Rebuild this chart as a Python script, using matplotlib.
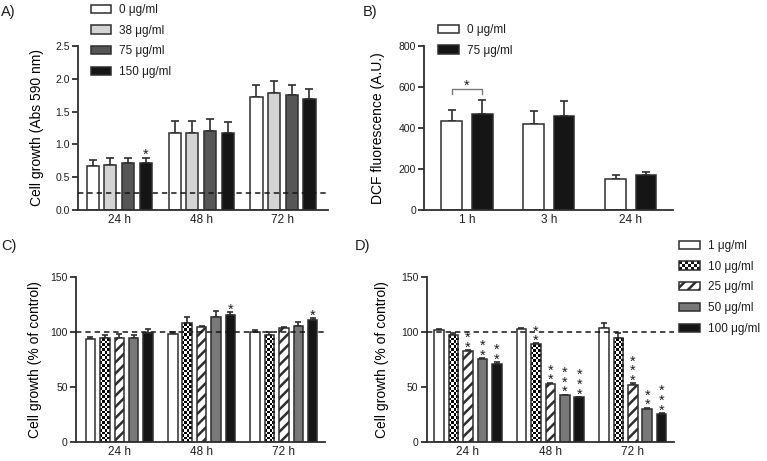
import matplotlib
matplotlib.use("Agg")
import matplotlib.pyplot as plt
import numpy as np
from matplotlib.patches import Patch, Rectangle
from matplotlib.legend_handler import HandlerBase

# ---- data -------------------------------------------------------------
time_a = ["24 h", "48 h", "72 h"]
conc_a = ["0 μg/ml", "38 μg/ml", "75 μg/ml", "150 μg/ml"]
growth_a = [[0.67, 1.17, 1.72],
            [0.69, 1.18, 1.78],
            [0.71, 1.20, 1.76],
            [0.71, 1.18, 1.69]]
err_a = [[0.09, 0.19, 0.19],
         [0.10, 0.17, 0.18],
         [0.09, 0.18, 0.15],
         [0.09, 0.16, 0.15]]
stars_a = [["", "", ""], ["", "", ""], ["", "", ""], ["*", "", ""]]
baseline_a = 0.26

time_b = ["1 h", "3 h", "24 h"]
conc_b = ["0 μg/ml", "75 μg/ml"]
dcf_b = [[432, 418, 150],
         [468, 459, 169]]
err_b = [[57, 67, 21],
         [67, 73, 18]]
bracket_b = 564  # height of the 1 h significance bracket

time_cd = ["24 h", "48 h", "72 h"]
conc_cd = ["1 μg/ml", "10 μg/ml", "25 μg/ml", "50 μg/ml", "100 μg/ml"]
growth_c = [[93.3, 98.5, 100.3],
            [94.5, 108.2, 97.0],
            [94.5, 104.3, 103.7],
            [94.8, 113.4, 105.8],
            [99.4, 115.5, 111.0]]
err_c = [[2.4, 1.5, 1.8],
         [2.7, 5.2, 2.7],
         [4.0, 1.0, 1.2],
         [3.0, 5.5, 3.0],
         [3.3, 2.5, 1.8]]
stars_c = [["", "", ""], ["", "", ""], ["", "", ""], ["", "", ""], ["", "*", "*"]]

growth_d = [[101.8, 103.0, 103.4],
            [97.3, 89.0, 94.5],
            [82.3, 53.0, 51.5],
            [75.6, 42.4, 30.2],
            [71.0, 40.5, 25.0]]
err_d = [[0.9, 0.4, 4.8],
         [2.0, 0.6, 4.9],
         [1.2, 1.0, 2.2],
         [0.9, 0.6, 0.9],
         [1.8, 0.5, 1.5]]
stars_d = [["", "", ""], ["", "**", ""], ["**", "**", "***"],
           ["**", "***", "**"], ["**", "***", "***"]]
control_cd = 100

# ---- style ------------------------------------------------------------
INK = "#1e1e1e"
EDGE = "#2e2e2e"
BLACK = "#151515"
W, H = 767, 461

plt.rcParams.update({
    "font.family": ["Liberation Sans", "DejaVu Sans"],
    "font.size": 8,
    "text.color": INK,
    "axes.edgecolor": EDGE,
    "axes.linewidth": 1.3,
    "xtick.color": INK,
    "ytick.color": EDGE,
    "ytick.labelcolor": INK,
    "hatch.linewidth": 1.8,
    "hatch.color": BLACK,
})

fig = plt.figure(figsize=(W / 100, H / 100), dpi=100)


def px_axes(left, top, right, bottom):
    return fig.add_axes([left / W, 1 - bottom / H, (right - left) / W, (bottom - top) / H])


def style_axes(ax, ylim, yticks, fmt, xlim, xlabels, ylabel, label_px, left_px, right_px):
    ax.set_xlim(*xlim)
    ax.set_ylim(*ylim)
    ax.set_yticks(yticks)
    ax.set_yticklabels([fmt.format(t) for t in yticks], fontsize=7.5)
    ax.set_xticks(range(len(xlabels)))
    ax.set_xticklabels(xlabels, fontsize=8.5)
    ax.tick_params(axis="x", length=0, pad=3)
    ax.tick_params(axis="y", length=4.5, width=1.3, pad=1.5)
    for s in ("top", "right"):
        ax.spines[s].set_visible(False)
    ax.set_ylabel(ylabel, fontsize=10)
    # label anchor is the right edge of the rotated text
    ax.yaxis.set_label_coords((label_px + 7 - left_px) / (right_px - left_px), 0.5)


def add_checker(ax, bars, cell=2.6):
    for bar in bars:
        x0, y0 = bar.get_x(), bar.get_y()
        x1, y1 = x0 + bar.get_width(), y0 + bar.get_height()
        p0 = ax.transData.transform((x0, y0))
        p1 = ax.transData.transform((x1, y1))
        nx = max(1, int(round((p1[0] - p0[0]) / cell)))
        ny = max(1, int(round((p1[1] - p0[1]) / cell)))
        board = np.indices((ny, nx)).sum(axis=0) % 2
        im = ax.imshow(board, cmap="gray", vmin=0, vmax=1, extent=(x0, x1, y0, y1),
                       origin="lower", aspect="auto", interpolation="nearest", zorder=1.5)
        im.set_clip_path(bar)


class CheckerHandler(HandlerBase):
    def create_artists(self, legend, orig_handle, xdescent, ydescent, width, height, fontsize, trans):
        arts = [Rectangle((-xdescent, -ydescent), width, height, facecolor="white",
                          edgecolor="none", transform=trans)]
        nx, ny = 7, 3
        for i in range(nx):
            for j in range(ny):
                if (i + j) % 2 == 0:
                    arts.append(Rectangle((-xdescent + i * width / nx, -ydescent + j * height / ny),
                                          width / nx, height / ny, facecolor=BLACK,
                                          edgecolor="none", transform=trans))
        arts.append(Rectangle((-xdescent, -ydescent), width, height, facecolor="none",
                              edgecolor=EDGE, linewidth=1.1, transform=trans))
        return arts


def add_legend(handles, labels, left_px, top_px, handler_map=None):
    fig.legend(handles, labels, loc="upper left",
               bbox_to_anchor=(left_px / W, 1 - top_px / H), bbox_transform=fig.transFigure,
               frameon=False, fontsize=8.5, handlelength=1.75, handleheight=0.7,
               handletextpad=0.7, labelspacing=0.74, borderpad=0, borderaxespad=0,
               handler_map=handler_map)


def draw_stars(ax, x, top, text, off_pt, fs=10.5):
    if text:
        ax.annotate("\n".join(text), xy=(x, top), xytext=(0, off_pt), textcoords="offset points",
                    ha="center", va="baseline", fontsize=fs, linespacing=0.6, color=INK)


# ---- A -----------------------------------------------------------------
ax = px_axes(78.3, 46, 328, 210)
colors_a = ["white", "#d4d4d4", "#565656", BLACK]
pitch = 0.216
x = np.arange(len(time_a))
handles_a = []
for i, (vals, errs, col) in enumerate(zip(growth_a, err_a, colors_a)):
    xi = x + (i - 1.5) * pitch
    ax.bar(xi, vals, width=0.148, color=col, edgecolor=EDGE, linewidth=1.1, zorder=2)
    ax.errorbar(xi, vals, yerr=[np.zeros(len(vals)), errs], fmt="none", ecolor=EDGE,
                elinewidth=1.2, capsize=2.6, capthick=1.2, zorder=1)
    for xx, v, e, s in zip(xi, vals, errs, stars_a[i]):
        draw_stars(ax, xx, v + e, s, -1.0)
    handles_a.append(Patch(facecolor=col, edgecolor=EDGE, linewidth=1.1))
ax.axhline(baseline_a, color=BLACK, linestyle=(0, (3.5, 2.6)), linewidth=1.1, zorder=3)
style_axes(ax, (0, 2.5), np.arange(0, 2.51, 0.5), "{:.1f}", (-0.5, 2.55), time_a,
           "Cell growth (Abs 590 nm)", 37, 78.3, 328)
add_legend(handles_a, conc_a, 90.5, 4)

# ---- B -----------------------------------------------------------------
ax = px_axes(424.3, 46, 672.7, 210)
colors_b = ["white", BLACK]
pitch = 0.374
x = np.arange(len(time_b))
handles_b = []
for i, (vals, errs, col) in enumerate(zip(dcf_b, err_b, colors_b)):
    xi = x + (i - 0.5) * pitch
    ax.bar(xi, vals, width=0.25, color=col, edgecolor=EDGE, linewidth=1.1, zorder=2)
    ax.errorbar(xi, vals, yerr=[np.zeros(len(vals)), errs], fmt="none", ecolor=EDGE,
                elinewidth=1.2, capsize=3.0, capthick=1.2, zorder=1)
    handles_b.append(Patch(facecolor=col, edgecolor=EDGE, linewidth=1.1))
bx = [x[0] - pitch / 2, x[0] - pitch / 2, x[0] + pitch / 2, x[0] + pitch / 2]
ax.plot(bx, [bracket_b, bracket_b + 25, bracket_b + 25, bracket_b], color="#7a7a7a", lw=1.0)
draw_stars(ax, x[0], bracket_b + 25, "*", -0.5)
style_axes(ax, (0, 800), np.arange(0, 801, 200), "{:.0f}", (-0.52, 2.51), time_b,
           "DCF fluorescence (A.U.)", 378, 424.3, 672.7)
add_legend(handles_b, conc_b, 438, 24)

# ---- C & D ----------------------------------------------------------------
colors_cd = ["white", "white", "white", "#787878", BLACK]
hatches_cd = [None, None, "///", None, None]
pitch = 0.175


def panel_cd(ax, growth, errs_all, stars, xlim, label_px, left_px, right_px, star_off):
    x = np.arange(len(time_cd))
    style_axes(ax, (0, 150), [0, 50, 100, 150], "{:.0f}", xlim, time_cd,
               "Cell growth (% of control)", label_px, left_px, right_px)
    handles = []
    for i, (vals, errs) in enumerate(zip(growth, errs_all)):
        xi = x + (i - 2) * pitch
        fc = "none" if i == 1 else colors_cd[i]
        bars = ax.bar(xi, vals, width=0.115, color=fc, edgecolor=EDGE, linewidth=1.1,
                      hatch=hatches_cd[i], zorder=2)
        if i == 1:
            add_checker(ax, bars)
        ax.errorbar(xi, vals, yerr=[np.zeros(len(vals)), errs], fmt="none", ecolor=EDGE,
                    elinewidth=1.2, capsize=2.4, capthick=1.2, zorder=1)
        for xx, v, e, s in zip(xi, vals, errs, stars[i]):
            draw_stars(ax, xx, v + e, s, star_off)
        if i == 1:
            handles.append(Patch(facecolor="white", edgecolor=EDGE))
        else:
            handles.append(Patch(facecolor=colors_cd[i], edgecolor=EDGE, linewidth=1.1,
                                 hatch=hatches_cd[i]))
    ax.axhline(control_cd, color=BLACK, linestyle=(0, (3.5, 2.6)), linewidth=1.1, zorder=3)
    return handles


ax = px_axes(76, 277.3, 325, 441.7)
panel_cd(ax, growth_c, err_c, stars_c, (-0.526, 2.50), 35, 76, 325, -1.0)

ax = px_axes(426.7, 277.3, 674, 441.7)
handles_d = panel_cd(ax, growth_d, err_d, stars_d, (-0.50, 2.50), 382, 426.7, 674, -1.2)
add_legend(handles_d, conc_cd, 679, 240, handler_map={handles_d[1]: CheckerHandler()})

# ---- panel letters ---------------------------------------------------------
for lab, (px, py) in zip(["A)", "B)", "C)", "D)"], [(1, 12), (363, 12), (1, 246), (355, 246)]):
    fig.text(px / W, 1 - py / H, lab, fontsize=10.5, ha="left", va="center")

fig.savefig("out.png", dpi=100, facecolor="white")
